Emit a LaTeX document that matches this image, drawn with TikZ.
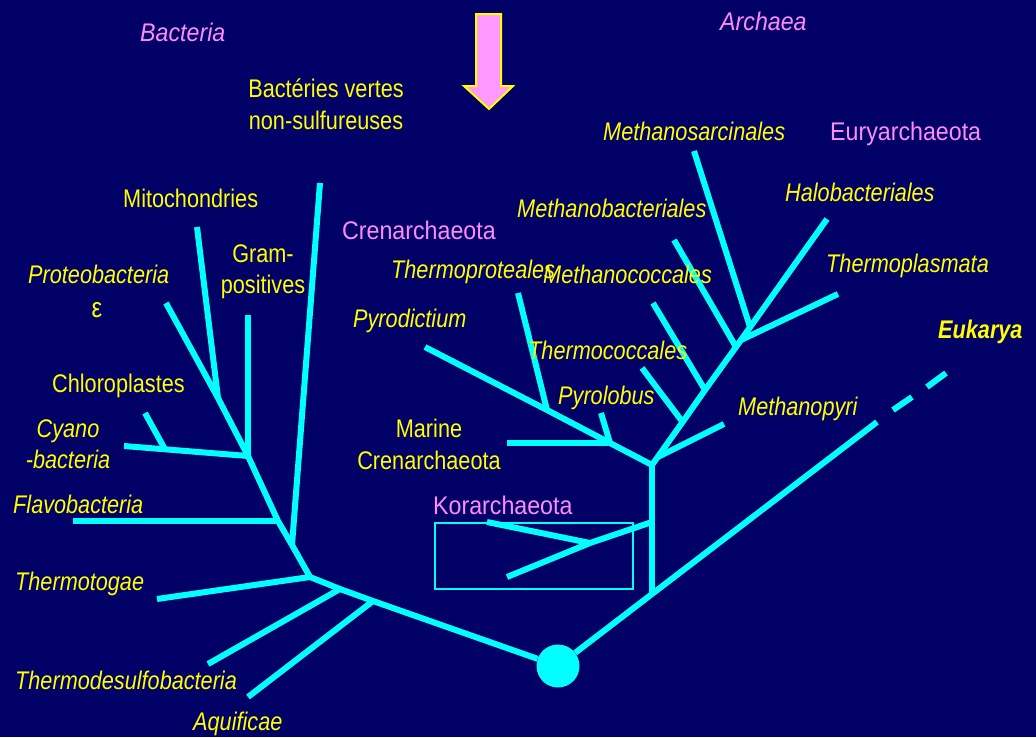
\documentclass[tikz,border=0pt]{standalone}
\usepackage{fontspec}
\setmainfont{Liberation Sans}[FakeStretch=0.85]
\newfontfamily\pinkfont{Liberation Sans}[FakeStretch=0.91]
\definecolor{navy}{RGB}{0,0,102}
\definecolor{cyn}{RGB}{0,255,255}
\definecolor{ylw}{RGB}{255,255,0}
\definecolor{pnk}{RGB}{255,140,255}
\definecolor{arrowpink}{RGB}{255,153,255}
\tikzset{
  br/.style={draw=cyn, line width=6pt, line join=round},
  lab/.style={text=ylw, inner sep=0pt, anchor=base west, font=\fontsize{25.5}{30}\selectfont},
  itl/.style={lab, font=\fontsize{25.5}{30}\selectfont\itshape},
  labc/.style={lab, anchor=base},
  itlc/.style={itl, anchor=base},
  pk/.style={text=pnk, inner sep=0pt, anchor=base west, font=\pinkfont\fontsize{25.5}{30}\selectfont},
  pki/.style={pk, font=\pinkfont\fontsize{25.5}{30}\selectfont\itshape},
}
\begin{document}
\begin{tikzpicture}[x=1pt,y=-1pt]
\fill[navy] (0,0) rectangle (1036,737);
\useasboundingbox (0,0) rectangle (1036,737);

% ---------- coordinates ----------
\node[circle, fill=cyn, minimum size=43pt, inner sep=0pt] (R) at (558,666) {};
% bacteria
\coordinate (b1) at (373,601);
\coordinate (b2) at (340,589);
\coordinate (b3) at (310,577);
\coordinate (b4) at (292,545);
\coordinate (fj) at (278,521);
\coordinate (j3) at (248,456);
\coordinate (mj) at (218,398);
\coordinate (prot) at (166,303);
\coordinate (tall) at (320,183);
\coordinate (mito) at (197,227);
\coordinate (gram) at (248,315);
\coordinate (cyan) at (124,446);
\coordinate (chj) at (165,449.3);
\coordinate (chl) at (145,413);
\coordinate (flav) at (73,521);
\coordinate (ttog) at (157,599);
\coordinate (tdes) at (208,664);
\coordinate (aqui) at (248,697);
% archaea
\coordinate (a1) at (652,594);
\coordinate (kj) at (652,522);
\coordinate (km) at (590,543);
\coordinate (ke1) at (507,577);
\coordinate (ke2) at (487,522);
\coordinate (a0) at (652,465);
\coordinate (c1) at (610,443);
\coordinate (c2) at (547,410);
\coordinate (pyrd) at (425,347);
\coordinate (mar) at (507,443);
\coordinate (pyrl) at (601,413);
\coordinate (tpro) at (518,293);
\coordinate (mpj) at (658,457);
\coordinate (mpy) at (724,424);
\coordinate (e2) at (682.6,422);
\coordinate (tcoc) at (642,368);
\coordinate (e3) at (705,390);
\coordinate (mcoc) at (653,303);
\coordinate (e4) at (736,347);
\coordinate (mbac) at (674,240);
\coordinate (e5) at (741,340);
\coordinate (tpla) at (838,294);
\coordinate (e6) at (750,327);
\coordinate (msar) at (694,151);
\coordinate (halo) at (827,219);
\coordinate (eu1) at (877,422);
\coordinate (d1a) at (893,410);
\coordinate (d1b) at (912,397);
\coordinate (d2a) at (927,387);
\coordinate (d2b) at (946,373);

% ---------- bacteria branches ----------
\draw[br] (R) -- (b1) -- (b2) -- (b3) -- (b4) -- (fj) -- (j3) -- (mj) -- (prot);
\draw[br] (b4) -- (tall);
\draw[br] (mj) -- (mito);
\draw[br] (j3) -- (gram);
\draw[br] (j3) -- (cyan);
\draw[br] (chj) -- (chl);
\draw[br] (fj) -- (flav);
\draw[br] (b3) -- (ttog);
\draw[br] (b2) -- (tdes);
\draw[br] (b1) -- (aqui);

% ---------- archaea / eukarya ----------
\draw[br] (R) -- (a1) -- (eu1);
\draw[br] (d1a) -- (d1b);
\draw[br] (d2a) -- (d2b);
\draw[br] (a1) -- (a0);
\draw[br] (kj) -- (km) -- (ke1);
\draw[br] (ke2) -- (km);
\draw[br] (a0) -- (c1) -- (c2) -- (pyrd);
\draw[br] (c1) -- (mar);
\draw[br] (c1) -- (pyrl);
\draw[br] (c2) -- (tpro);
\draw[br] (a0) -- (e2) -- (e3) -- (e4) -- (halo);
\draw[br] (mpj) -- (mpy);
\draw[br] (e2) -- (tcoc);
\draw[br] (e3) -- (mcoc);
\draw[br] (e4) -- (mbac);
\draw[br] (e5) -- (tpla);
\draw[br] (e6) -- (msar);

% Korarchaeota box
\node[draw=cyn, line width=1.5pt, minimum width=198pt, minimum height=66pt, inner sep=0pt, anchor=north west] (kbox) at (434,522) {};

% arrow
\draw[fill=arrowpink, draw=ylw, line width=2pt, line join=miter]
  (476,14) -- (501,14) -- (501,86) -- (513,86) -- (489,109) -- (464,86) -- (476,86) -- cycle;

% ---------- labels ----------
\node[pki] (tBac) at (140,41) {Bacteria};
\node[pki] (tArc) at (720,30) {Archaea};
\node[labc] (tbv1) at (326,97) {Bactéries vertes};
\node[labc] (tbv2) at (326,129) {non-sulfureuses};
\node[lab] (tMito) at (123,207) {Mitochondries};
\node[labc] (tGr1) at (263,262) {Gram-};
\node[labc] (tGr2) at (263,293) {positives};
\node[itl] (tProt) at (28,283) {Proteobacteria};
\node[labc, font=\fontsize{28}{30}\selectfont] (tEps) at (97,317) {ε};
\node[lab] (tChl) at (52,392) {Chloroplastes};
\node[itlc] (tCy1) at (68,437) {Cyano};
\node[itlc] (tCy2) at (68,468) {-bacteria};
\node[itl] (tFlav) at (13,513) {Flavobacteria};
\node[itl] (tTtog) at (15,590) {Thermotogae};
\node[itl] (tTdes) at (15,689) {Thermodesulfobacteria};
\node[itl] (tAqui) at (193,730) {Aquificae};
\node[pk] (tCren) at (342,239) {Crenarchaeota};
\node[itl] (tTpro) at (391,278) {Thermoproteales};
\node[itl] (tMcoc) at (543,283) {Methanococcales};
\node[itl] (tPyrd) at (353,327) {Pyrodictium};
\node[itl] (tTcoc) at (528,359) {Thermococcales};
\node[itl] (tPyrl) at (558,404) {Pyrolobus};
\node[labc] (tMar1) at (429,437) {Marine};
\node[labc] (tMar2) at (429,469) {Crenarchaeota};
\node[itl] (tMpy) at (738,415) {Methanopyri};
\node[itl, font=\fontsize{25.5}{30}\selectfont\itshape\bfseries] (tEuk) at (938,338) {Eukarya};
\node[itl] (tMsar) at (603,140) {Methanosarcinales};
\node[pk] (tEury) at (830,140) {Euryarchaeota};
\node[itl] (tMbac) at (517,217) {Methanobacteriales};
\node[itl] (tHalo) at (785,201) {Halobacteriales};
\node[itl] (tTpla) at (826,272) {Thermoplasmata};
\node[pk] (tKor) at (433,514) {Korarchaeota};
\end{tikzpicture}
\end{document}
